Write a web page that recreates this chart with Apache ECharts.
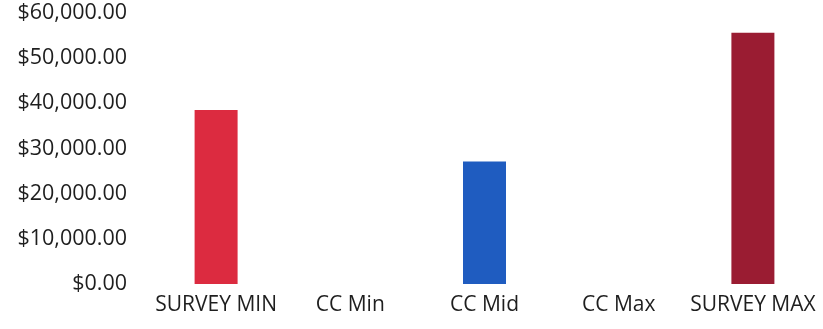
<!DOCTYPE html>
<html>
<head>
<meta charset="utf-8">
<script src="https://cdn.jsdelivr.net/npm/echarts@6/dist/echarts.min.js"></script>
<style>
html,body{margin:0;padding:0;background:#fff;}
#chart{width:823px;height:329px;}
</style>
</head>
<body>
<div id="chart"></div>
<script>
var categories = ['SURVEY MIN', 'CC Min', 'CC Mid', 'CC Max', 'SURVEY MAX'];
var values = [38500, null, 27100, null, 55600];
var barColors = ['#dc2b40', '#1f5cc0', '#1f5cc0', '#1f5cc0', '#9a1c32'];
var yTicks = [0, 10000, 20000, 30000, 40000, 50000, 60000];

var chart = echarts.init(document.getElementById('chart'));
chart.setOption({
  animation: false,
  backgroundColor: '#ffffff',
  grid: {left: 149, right: 3, top: 13, bottom: 45, containLabel: false},
  xAxis: {
    type: 'category',
    data: categories,
    axisLine: {show: false},
    axisTick: {show: false},
    axisLabel: {color: '#1e1e1e', fontFamily: '"Open Sans", sans-serif', fontSize: 21, margin: 11, interval: 0}
  },
  yAxis: {
    type: 'value',
    min: yTicks[0],
    max: yTicks[yTicks.length - 1],
    interval: yTicks[1] - yTicks[0],
    splitLine: {show: false},
    axisLine: {show: false},
    axisTick: {show: false},
    axisLabel: {
      color: '#1e1e1e', fontFamily: '"Open Sans", sans-serif', fontSize: 21.5, margin: 22,
      formatter: function (v) {
        return '$' + v.toLocaleString('en-US', {minimumFractionDigits: 2, maximumFractionDigits: 2});
      }
    }
  },
  series: [{
    type: 'bar',
    barWidth: 43,
    data: values.map(function (v, i) {
      return {value: v, itemStyle: {color: barColors[i]}};
    })
  }]
});
</script>
</body>
</html>
